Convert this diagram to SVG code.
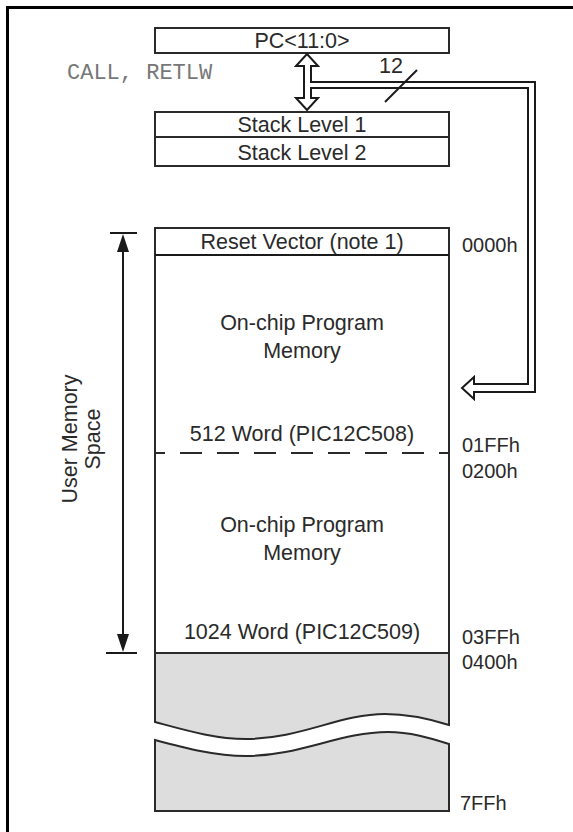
<svg xmlns="http://www.w3.org/2000/svg" width="573" height="832" viewBox="0 0 573 832">
<style>
  .box { fill: #ffffff; stroke: #2a2a2a; stroke-width: 2; }
  .gray { fill: #dddddd; stroke: #2a2a2a; stroke-width: 2; }
  .lbl { font-family: "Liberation Sans", Arial, sans-serif; font-size: 21.5px; fill: #2a2a2a; text-anchor: middle; }
  .addr { font-family: "Liberation Sans", Arial, sans-serif; font-size: 20px; fill: #2a2a2a; }
  .mono { font-family: "Liberation Mono", "Courier New", monospace; font-size: 22px; fill: #777777; }
  .ln { stroke: #1a1a1a; stroke-width: 2; fill: none; }
</style>
<rect x="0" y="0" width="573" height="832" fill="#ffffff"/>
<g id="frame">
  <line x1="6" y1="7.5" x2="573" y2="7.5" stroke="#000" stroke-width="3"/>
  <line x1="7.5" y1="6" x2="7.5" y2="832" stroke="#000" stroke-width="3"/>
</g>
<g id="pc">
  <rect class="box" x="155" y="28" width="294" height="25"/>
  <text class="lbl" x="302" y="48">PC&lt;11:0&gt;</text>
</g>
<g id="call-label">
  <text class="mono" x="67" y="79">CALL, RETLW</text>
</g>
<g id="stack1">
  <rect class="box" x="155" y="112" width="294" height="25"/>
  <text class="lbl" x="302" y="132">Stack Level 1</text>
</g>
<g id="stack2">
  <rect class="box" x="155" y="137" width="294" height="29"/>
  <text class="lbl" x="302" y="160">Stack Level 2</text>
</g>
<g id="memory">
  <rect class="box" x="155" y="228" width="294" height="425"/>
  <line class="ln" x1="155" y1="255" x2="449" y2="255" stroke="#2a2a2a"/>
  <line x1="155" y1="453" x2="449" y2="453" stroke="#2a2a2a" stroke-width="2" stroke-dasharray="22 15" stroke-dashoffset="12"/>
  <path class="gray" d="M155,653 H449 V725 C430,719 410,714 385,714 C340,714 300,739 246,739 C215,739 185,730 155,722 Z"/>
  <path class="gray" d="M155,740 C185,748 215,756 246,756 C300,756 340,732 388,732 C410,732 430,738 449,744 V811 H155 Z"/>
  <text class="lbl" x="302" y="249">Reset Vector (note 1)</text>
  <text class="lbl" x="302" y="330">On-chip Program</text>
  <text class="lbl" x="302" y="358">Memory</text>
  <text class="lbl" x="302" y="441">512 Word (PIC12C508)</text>
  <text class="lbl" x="302" y="532">On-chip Program</text>
  <text class="lbl" x="302" y="560">Memory</text>
  <text class="lbl" x="302" y="639">1024 Word (PIC12C509)</text>
</g>
<g id="addresses">
  <text class="addr" x="462" y="252">0000h</text>
  <text class="addr" x="462" y="452">01FFh</text>
  <text class="addr" x="462" y="478">0200h</text>
  <text class="addr" x="462" y="644">03FFh</text>
  <text class="addr" x="462" y="669">0400h</text>
  <text class="addr" x="460" y="810">7FFh</text>
</g>
<g id="user-space">
  <text class="lbl" transform="translate(77,439) rotate(-90)">User Memory</text>
  <text class="lbl" transform="translate(100,439) rotate(-90)">Space</text>
</g>
<g id="connectors">
  <path d="M307,54 L318,66 L311,66 L311,82 L535,82 L535,392 L474,392 L474,399 L462,388 L474,377 L474,384 L528,384 L528,88 L311,88 L311,98 L318,98 L307,110 L296,98 L304,98 L304,66 L296,66 Z" fill="#ffffff" stroke="#1a1a1a" stroke-width="2" stroke-linejoin="miter"/>
  <line class="ln" x1="385" y1="102" x2="417" y2="70"/>
  <text class="lbl" x="391" y="73">12</text>
  <line class="ln" x1="123" y1="240" x2="123" y2="646"/>
  <line class="ln" x1="110" y1="233" x2="137" y2="233"/>
  <polygon points="123,234 117,252 129,252" fill="#1a1a1a"/>
  <line class="ln" x1="106" y1="653" x2="137" y2="653"/>
  <polygon points="123,652 117,634 129,634" fill="#1a1a1a"/>
</g>
</svg>
